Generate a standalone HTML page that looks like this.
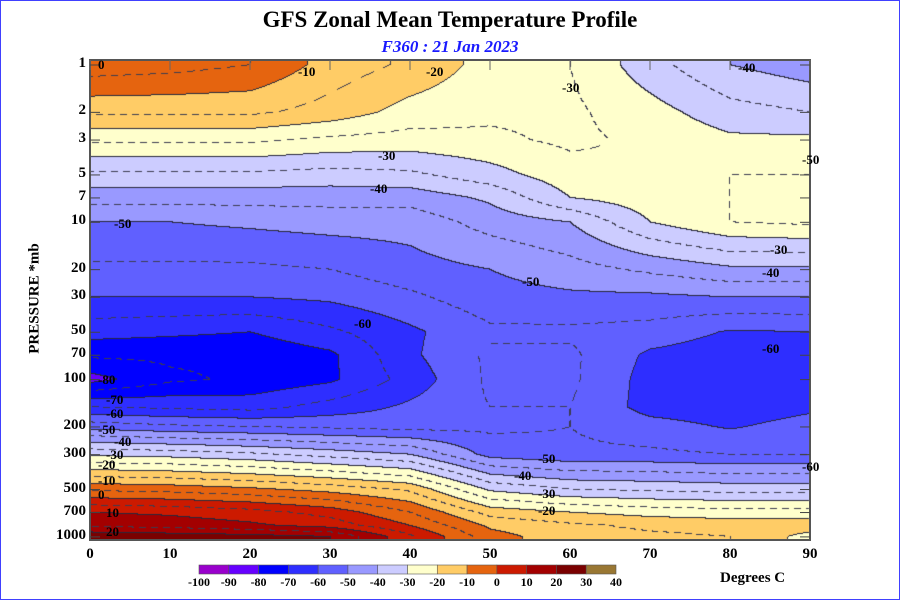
<!DOCTYPE html>
<html><head><meta charset="utf-8"><style>
body{margin:0;background:#fff;}
#wrap{position:relative;width:900px;height:600px;overflow:hidden;font-family:"Liberation Serif",serif;}
.t{position:absolute;font-weight:bold;color:#000;white-space:nowrap;}
.yl{position:absolute;font-weight:bold;font-size:15px;right:814px;text-align:right;}
.xl{position:absolute;font-weight:bold;font-size:15px;top:546px;width:40px;text-align:center;}
.cl{position:absolute;font-weight:bold;font-size:13px;white-space:nowrap;}
</style></head><body>
<div id="wrap">
<div style="position:absolute;left:0;top:0;width:898px;height:598px;border:1px solid #4040ff;"></div>
<div class="t" style="left:0;width:900px;text-align:center;top:7px;font-size:23px;">GFS Zonal Mean Temperature Profile</div>
<div class="t" style="left:0;width:900px;text-align:center;top:37px;font-size:17px;font-style:italic;color:#1a1aff;">F360 : 21 Jan 2023</div>
<div class="t" style="left:-25px;top:290px;font-size:15px;transform:rotate(-90deg);width:120px;text-align:center;">PRESSURE *mb</div>
<canvas id="cv" width="720" height="480" style="position:absolute;left:90px;top:60px;"></canvas>
<svg id="ov" width="900" height="600" style="position:absolute;left:0;top:0;"></svg>
<div id="labels"></div>
<div class="t" style="left:720px;top:570px;font-size:15px;">Degrees C</div>
</div>
<script>
const lats=[0,10,20,30,40,50,60,70,80,90];
const levels=[1,2,3,5,7,10,20,30,50,70,100,150,200,300,500,700,850,1000];
const temps=[
[-2,-3,-5,-12,-16,-22,-25,-33,-40,-43],
[-14,-14,-14,-17,-22,-24,-24,-28,-33,-35],
[-24,-24,-24,-26,-27,-26,-24,-26,-29,-29],
[-36,-36,-36,-37,-36,-32,-27,-25,-25,-25],
[-43,-43,-43,-43,-43,-39,-30,-27,-25,-25],
[-50,-50,-49,-48,-48,-43,-40,-30,-25,-24],
[-56,-56,-56,-55,-52,-50,-47,-44,-41,-41],
[-60,-60,-60,-59,-56,-52,-51,-51,-50,-50],
[-68,-69,-70,-66,-61,-56,-56,-57,-60.5,-60],
[-74,-74,-74,-71,-61,-54,-54,-61,-63,-63],
[-82,-76,-74,-71,-63,-54,-54,-62,-64,-63],
[-65,-66,-67,-63,-59,-55,-55,-62,-63,-61],
[-52,-54,-55,-56,-57,-56,-55,-58,-60.5,-58],
[-31,-32,-34,-37,-40,-52,-54,-54,-55,-55],
[-6,-7,-9,-12,-16,-31,-35,-36,-37,-37],
[10,9,7,3,-5,-17,-20,-22,-23,-23],
[14,13,11,8,0,-11,-14,-16,-17,-17],
[24,23,22,20,6,-8,-13,-14,-15,-22]];
const bandEdges=[-100,-90,-80,-70,-60,-50,-40,-30,-20,-10,0,10,20,30,40];
const bandColors=['#9900cc','#6600ff','#0000ff','#2e2eff','#6060ff','#9999ff','#ccccff','#ffffcc','#ffcc66','#e5640f','#cc1a00','#a30000','#7a0000','#997733'];
const xTicks=[0,10,20,30,40,50,60,70,80,90];
const yTicks=[1,2,3,5,7,10,20,30,50,70,100,200,300,500,700,1000];

const X0=90,X1=810,Y0=60,Y1=540;
function xs(lat){return X0+lat*(X1-X0)/90;}
function ys(p){return 65+157.3*Math.log10(p);}
const lp=levels.map(p=>ys(p));
function val(lat,y){
  let i=Math.min(8,Math.max(0,Math.floor(lat/10)));let fx=(lat-lats[i])/10;
  let j=0;while(j<levels.length-2&&lp[j+1]<y)j++;
  let fy=(y-lp[j])/(lp[j+1]-lp[j]);fy=Math.max(0,Math.min(1,fy));
  const a=temps[j][i]*(1-fx)+temps[j][i+1]*fx;
  const b=temps[j+1][i]*(1-fx)+temps[j+1][i+1]*fx;
  return a*(1-fy)+b*fy;
}
function hex(c){return [parseInt(c.substr(1,2),16),parseInt(c.substr(3,2),16),parseInt(c.substr(5,2),16)];}
const rgb=bandColors.map(hex);
const cv=document.getElementById('cv');const ctx=cv.getContext('2d');
const W=cv.width,H=cv.height;const img=ctx.createImageData(W,H);
const V=new Float32Array(W*H);
for(let py=0;py<H;py++)for(let px=0;px<W;px++){V[py*W+px]=val(px*90/W,Y0+py+0.5);}
for(let py=0;py<H;py++)for(let px=0;px<W;px++){
  const v=V[py*W+px];let b=Math.floor((v+100)/10);b=Math.max(0,Math.min(13,b));
  let c=rgb[b];const k=(py*W+px)*4;
  let line=false,dash=false;
  if(px<W-1&&py<H-1){
    const r=V[py*W+px+1],d=V[(py+1)*W+px];
    if(Math.floor(v/10)!==Math.floor(r/10)||Math.floor(v/10)!==Math.floor(d/10))line=true;
    else if(Math.floor((v+5)/10)!==Math.floor((r+5)/10)||Math.floor((v+5)/10)!==Math.floor((d+5)/10)){if(((px+py)%12)<7)dash=true;}
  }
  if(line){c=[40,40,60];}else if(dash){c=[60,60,80];}
  img.data[k]=c[0];img.data[k+1]=c[1];img.data[k+2]=c[2];img.data[k+3]=255;
}
ctx.putImageData(img,0,0);
const ov=document.getElementById('ov');const NS='http://www.w3.org/2000/svg';
function mk(t,a){const e=document.createElementNS(NS,t);for(const k in a)e.setAttribute(k,a[k]);ov.appendChild(e);return e;}
const fr=mk('rect',{x:X0,y:Y0,width:X1-X0,height:Y1-Y0,fill:'none',stroke:'#555',"stroke-width":2});


const L=document.getElementById('labels');
xTicks.forEach(t=>{
  const x=xs(t);
  const tk=mk('line',{x1:x,x2:x,y1:Y0,y2:Y0+10,stroke:'#666'});
  
  
  const d=document.createElement('div');d.className='xl';d.style.left=(x-20)+'px';d.textContent=t;
  
  
  L.appendChild(d);
});
yTicks.forEach(p=>{
  const y=ys(p);
  const tk=mk('line',{x1:X0,x2:X0+10,y1:y,y2:y,stroke:'#444'});
  
  
  const tk2=mk('line',{x1:X1-10,x2:X1,y1:y,y2:y,stroke:'#444'});
  
  
  const d=document.createElement('div');d.className='yl';d.style.top=(y-10)+'px';d.textContent=p;
  
  
  L.appendChild(d);
});
const cbX=199,cbW=(616-199)/14;
bandColors.forEach((c,i)=>{
  const r=mk('rect',{x:cbX+i*cbW,y:565,width:cbW,height:9,fill:c,stroke:'#555',"stroke-width":0.6});
  
  
});
bandEdges.forEach((e,i)=>{
  const d=document.createElement('div');d.className='cl';d.style.fontSize='12px';d.style.left=(cbX+i*cbW-15)+'px';d.style.width='30px';d.style.textAlign='center';d.style.top='575px';d.textContent=e;
  
  
  L.appendChild(d);
});
const cLabels=[['0',2,1],['-10',27,1.1],['-20',43,1.1],['-30',60,1.4],['-40',82,1.05],['-30',37,3.8],['-40',36,6.1],['-50',4,10.3],['-50',55,24],['-60',34,44],['-60',85,64],['-30',86,15],['-40',85,21],['-50',90,4],['-60',90,360],
['-80',2,100],['-70',3,135],['-60',3,165],['-50',2,210],['-40',4,250],['-30',3,300],['-20',2,350],['-10',2,440],['0',2,540],['10',3,700],['20',3,930],
['-50',57,320],['-40',54,410],['-30',57,530],['-20',57,680]];
cLabels.forEach(c=>{
  const d=document.createElement('div');d.className='cl';d.textContent=c[0];
  d.style.left=(xs(c[1])-8)+'px';d.style.top=(ys(c[2])-8)+'px';
  
  
  L.appendChild(d);
});
</script>
</body></html>
